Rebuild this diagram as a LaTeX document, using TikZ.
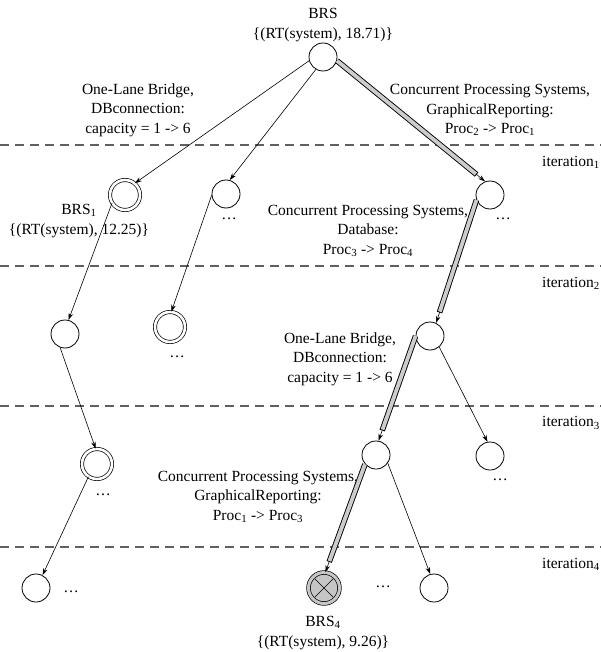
\documentclass[tikz,border=0pt]{standalone}
\usepackage{fontspec}
\setmainfont{Liberation Serif}
\usetikzlibrary{arrows.meta,calc}
\begin{document}
\begin{tikzpicture}[x=1pt,y=-1pt,
  every node/.style={font=\fontsize{15.5}{19.5}\selectfont},
  pn/.style={circle,draw,line width=0.8pt,minimum size=28pt,inner sep=0pt},
  dn/.style={circle,draw,line width=0.7pt,double,double distance=2.6pt,minimum size=30pt,inner sep=0pt},
  xn/.style={circle,draw,line width=0.7pt,double=gray!45,double distance=3pt,fill=gray!45,minimum size=31pt,inner sep=0pt},
  lbl/.style={align=center,inner sep=0pt},
  arr/.style={-{Stealth[length=7pt,width=4.5pt]},line width=0.6pt},
  barout/.style={line width=5.6pt,draw=black,shorten >=11pt},
  barin/.style={line width=3.8pt,draw=gray!40,shorten >=11.9pt},
  sepline/.style={draw=gray!75!black,line width=1.3pt,dash pattern=on 9pt off 6pt},
  itl/.style={anchor=east,inner sep=0pt}
]
\useasboundingbox (0,0) rectangle (601,652);

% separators
\draw[sepline] (0,145) -- (601,145);
\draw[sepline] (0,266) -- (601,266);
\draw[sepline] (0,406) -- (601,406);
\draw[sepline] (0,547) -- (601,547);
\node[itl] (it1) at (600,162) {iteration\textsubscript{1}};
\node[itl] (it2) at (600,283) {iteration\textsubscript{2}};
\node[itl] (it3) at (600,423) {iteration\textsubscript{3}};
\node[itl] (it4) at (600,564) {iteration\textsubscript{4}};

% nodes
\node[pn] (r)   at (323,57)  {};
\node[dn] (b1)  at (125,195) {};
\node[pn] (m1)  at (226,194) {};
\node[pn] (n1)  at (490,195) {};
\node[pn] (l2a) at (65,334)  {};
\node[dn] (d2)  at (170,327) {};
\node[pn] (n2)  at (430,336) {};
\node[dn] (d3)  at (97,464)  {};
\node[pn] (m3)  at (376,455) {};
\node[pn] (r3)  at (490,456) {};
\node[pn] (bl)  at (36,588)  {};
\node[xn] (x4)  at (324,588) {};
\node[pn] (br)  at (434,588) {};
\draw[line width=0.6pt] ($(x4.center)+(45:13pt)$) -- ($(x4.center)+(225:13pt)$);
\draw[line width=0.6pt] ($(x4.center)+(135:13pt)$) -- ($(x4.center)+(-45:13pt)$);

% labels
\node[lbl] (lr)  at (323,25)  {BRS\\\{(RT(system), 18.71)\}};
\node[lbl] (lb1) at (79,221)  {BRS\textsubscript{1}\\\{(RT(system), 12.25)\}};
\node[lbl] (lb4) at (323,633) {BRS\textsubscript{4}\\\{(RT(system), 9.26)\}};
\node[lbl] (t1)  at (138,110) {One-Lane Bridge,\\DBconnection:\\capacity = 1 -> 6};
\node[lbl] (t2)  at (490,110) {Concurrent Processing Systems,\\GraphicalReporting:\\Proc\textsubscript{2} -> Proc\textsubscript{1}};
\node[lbl] (t3)  at (368,231) {Concurrent Processing Systems,\\Database:\\Proc\textsubscript{3} -> Proc\textsubscript{4}};
\node[lbl] (t4)  at (340,359) {One-Lane Bridge,\\DBconnection:\\capacity = 1 -> 6};
\node[lbl] (t5)  at (258,497) {Concurrent Processing Systems,\\GraphicalReporting:\\Proc\textsubscript{1} -> Proc\textsubscript{3}};

% ellipses
\node[inner sep=0pt] (e1) at (229,219) {\ldots};
\node[inner sep=0pt] (e2) at (503,219) {\ldots};
\node[inner sep=0pt] (e3) at (177,357) {\ldots};
\node[inner sep=0pt] (e4) at (103,495) {\ldots};
\node[inner sep=0pt] (e5) at (500,480) {\ldots};
\node[inner sep=0pt] (e6) at (71,592)  {\ldots};
\node[inner sep=0pt] (e7) at (383,587) {\ldots};

% thin connectors
\draw[arr] (r.195) -- (b1.50);
\draw[arr] (r.240) -- (m1.75);
\draw[arr] (b1.212) -- (l2a.76);
\draw[arr] (m1.185) -- (d2.85);
\draw[arr] (l2a.250) -- (d3.95);
\draw[arr] (n2.-50) -- (r3.100);
\draw[arr] (d3.236) -- (bl.63);
\draw[arr] (m3.-35) -- (br.105);

% highlighted connectors
\draw[arr] (r.-15) -- (n1.110);
\draw[barout] (r.-15) -- (n1.110);
\draw[barin] (r.-15) -- (n1.110);
\draw[arr] (n1.200) -- (n2.65);
\draw[barout] (n1.200) -- (n2.65);
\draw[barin] (n1.200) -- (n2.65);
\draw[arr] (n2.180) -- (m3.80);
\draw[barout] (n2.180) -- (m3.80);
\draw[barin] (n2.180) -- (m3.80);
\draw[arr] (m3.220) -- (x4.85);
\draw[barout] (m3.220) -- (x4.85);
\draw[barin] (m3.220) -- (x4.85);
\end{tikzpicture}
\end{document}
